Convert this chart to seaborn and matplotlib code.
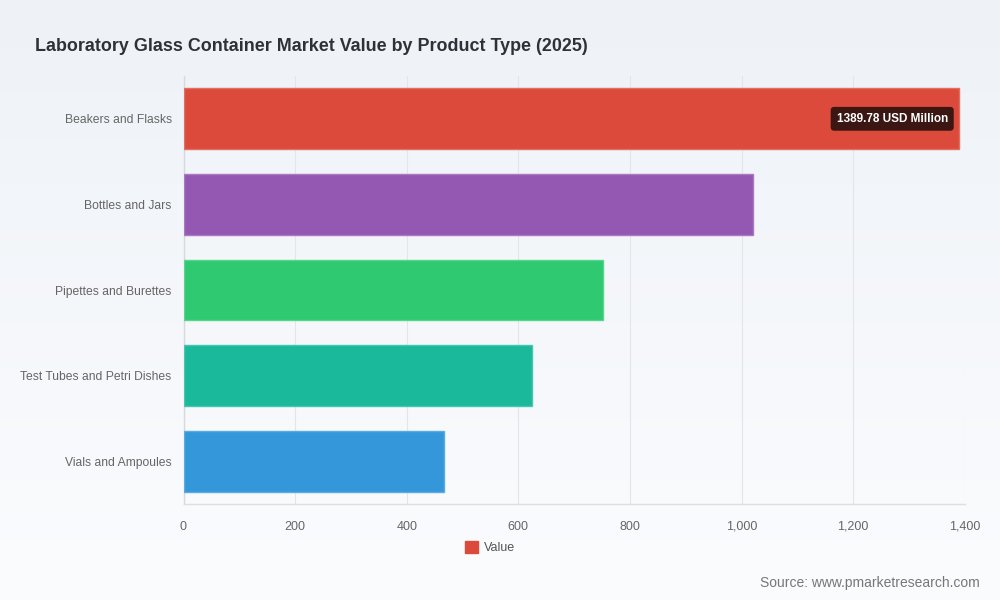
import matplotlib
matplotlib.use("Agg")
import matplotlib.pyplot as plt
import seaborn as sns
import numpy as np
import pandas as pd
from matplotlib.patches import Patch

categories = ["Beakers and Flasks", "Bottles and Jars", "Pipettes and Burettes",
              "Test Tubes and Petri Dishes", "Vials and Ampoules"]
values = [1389.78, 1021.5, 751.6, 624.4, 466.1]
colors = ["#dc4a3b", "#9457b2", "#2ec971", "#1ab99b", "#3497da"]
x_ticks = [0, 200, 400, 600, 800, 1000, 1200, 1400]
x_tick_labels = ["0", "200", "400", "600", "800", "1,000", "1,200", "1,400"]
title = "Laboratory Glass Container Market Value by Product Type (2025)"
tooltip = "1389.78 USD Million"
source = "Source: www.pmarketresearch.com"

sns.set_theme(style="white")
plt.rcParams['font.family'] = ['Liberation Sans', 'DejaVu Sans']

fig = plt.figure(figsize=(10, 6), dpi=100)

# gradient background
bg = fig.add_axes([0, 0, 1, 1], zorder=-10)
grad = np.linspace(0, 1, 256).reshape(-1, 1)
top = np.array([0xee, 0xf2, 0xf7]) / 255
bot = np.array([0xfb, 0xfc, 0xfe]) / 255
img = top[None, None, :] * (1 - grad[:, :, None]) + bot[None, None, :] * grad[:, :, None]
bg.imshow(img, aspect="auto", extent=[0, 1, 0, 1])
bg.axis("off")

ax = fig.add_axes([0.1835, 0.16, 0.7812, 0.7133])
ax.patch.set_alpha(0)

df = pd.DataFrame({"category": categories, "value": values})
sns.barplot(data=df, y="category", x="value", hue="category", palette=colors,
            orient="h", width=0.71, legend=False, ax=ax, saturation=1)
for bar, c in zip(ax.patches, colors):
    bar.set_facecolor(c)
    base = np.array(matplotlib.colors.to_rgb(c))
    light = base + (1 - base) * 0.2
    bar.set_edgecolor(light)
    bar.set_linewidth(1.0)
    bar.set_zorder(3)

ax.set_xlim(0, 1400)
ax.set_ylim(4.5, -0.5)
ax.set_xticks(x_ticks)
ax.set_xticklabels(x_tick_labels)
ax.tick_params(axis="x", labelsize=9, colors="#666666", length=0, pad=12)
ax.tick_params(axis="y", labelsize=8.7, colors="#666666", length=0, pad=8.5)
ax.set_xlabel("")
ax.set_ylabel("")
ax.grid(axis="x", color="#e3e5e9", linewidth=0.8, zorder=0)
ax.set_axisbelow(True)
for s in ["top", "right"]:
    ax.spines[s].set_visible(False)
ax.spines["bottom"].set_color("#dcdfe4")
ax.spines["left"].set_color("#d6d9de")
ax.spines["bottom"].set_linewidth(1)
ax.spines["left"].set_linewidth(1)

# tooltip label
ax.text(values[0] - 20, 0, tooltip, ha="right", va="center", fontsize=8.5,
        fontweight="bold", color="white", zorder=5,
        bbox=dict(boxstyle="round,pad=0.5,rounding_size=0.3", facecolor="#3b1612",
                  edgecolor="none"))

fig.text(0.035, 0.923, title, fontsize=12.9, fontweight="bold", color="#2d3238",
         ha="left", va="center")

leg = fig.legend(handles=[Patch(facecolor=colors[0], edgecolor=colors[0], label="Value")],
                 loc="center", bbox_to_anchor=(0.49, 0.087), frameon=False, fontsize=9,
                 handlelength=1.0, handleheight=1.0, handletextpad=0.5)
for t in leg.get_texts():
    t.set_color("#555555")

fig.text(0.98, 0.028, source, fontsize=10, color="#777777", ha="right", va="center")

fig.savefig("out.png", dpi=100)
